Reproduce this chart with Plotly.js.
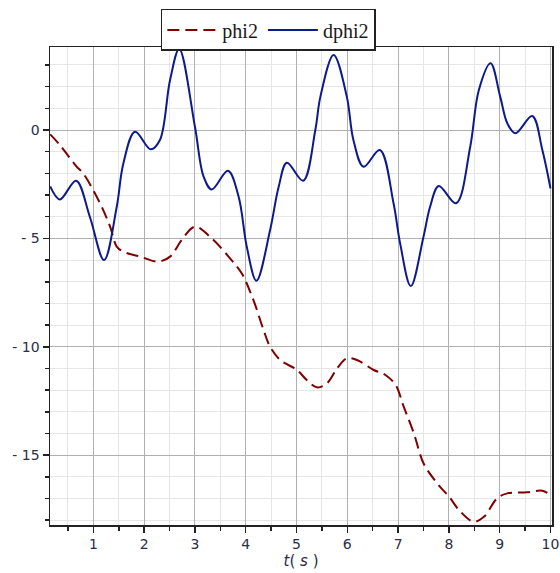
<!DOCTYPE html>
<html>
<head>
<meta charset="utf-8">
<script src="https://cdn.plot.ly/plotly-3.0.1.min.js"></script>
<style>
  html, body { margin: 0; padding: 0; background: #ffffff; }
  #chart { width: 560px; height: 573px; }
</style>
</head>
<body>
<div id="chart"></div>
<script>
// ---- data ----
const tPhi2 = [0.15, 0.34, 0.67, 0.80, 1.13, 1.33, 1.46, 1.59, 1.92, 2.28, 2.51, 2.74, 3.0, 3.33, 3.69, 3.92, 4.15, 4.35, 4.48, 4.68, 5.01, 5.20, 5.40, 5.60, 5.80, 5.99, 6.19, 6.52, 6.75, 6.95, 7.11, 7.31, 7.50, 7.77, 8.0, 8.23, 8.49, 8.69, 8.95, 9.15, 9.54, 9.84, 10.0];
const phi2 = [-0.2, -0.69, -1.69, -2.0, -3.38, -4.46, -5.38, -5.61, -5.84, -6.07, -5.84, -5.07, -4.46, -5.0, -5.92, -6.61, -7.84, -9.22, -10.0, -10.61, -11.07, -11.53, -11.87, -11.68, -10.99, -10.53, -10.61, -11.07, -11.30, -11.76, -12.76, -13.99, -15.37, -16.30, -16.91, -17.61, -18.07, -17.84, -16.99, -16.76, -16.71, -16.64, -16.84];

const tDphi2 = [0.15, 0.34, 0.66, 0.93, 1.21, 1.46, 1.59, 1.82, 2.13, 2.31, 2.51, 2.69, 3.0, 3.17, 3.33, 3.65, 3.86, 4.02, 4.21, 4.48, 4.65, 4.81, 5.13, 5.37, 5.47, 5.73, 5.99, 6.12, 6.32, 6.64, 6.91, 7.04, 7.25, 7.50, 7.63, 7.80, 8.14, 8.42, 8.59, 8.82, 9.01, 9.15, 9.31, 9.64, 9.84, 10.0];
const dphi2 = [-2.6, -3.2, -2.34, -4.0, -6.0, -3.54, -1.54, -0.08, -0.89, -0.46, 2.31, 3.74, 0.15, -2.15, -2.74, -1.88, -3.08, -5.38, -6.95, -4.61, -2.6, -1.51, -2.34, 0.0, 1.54, 3.46, 1.54, -0.46, -1.69, -0.92, -3.38, -5.23, -7.2, -4.92, -3.54, -2.58, -3.38, -0.77, 1.85, 3.08, 1.54, 0.31, -0.15, 0.65, -0.92, -2.69];

const seriesNames = ['phi2', 'dphi2'];
const xTickVals = [1, 2, 3, 4, 5, 6, 7, 8, 9, 10];
const xTickText = ['1', '2', '3', '4', '5', '6', '7', '8', '9', '10'];
const yTickVals = [-15, -10, -5, 0];
const yTickText = ['- 15', '- 10', '- 5', '0'];

// ---- chart ----
const traces = [
  {
    x: tPhi2, y: phi2, name: seriesNames[0], type: 'scatter', mode: 'lines',
    line: { color: '#800000', width: 2, dash: '12px,6px', shape: 'spline', smoothing: 1 }
  },
  {
    x: tDphi2, y: dphi2, name: seriesNames[1], type: 'scatter', mode: 'lines',
    line: { color: '#0c1a8c', width: 2, shape: 'spline', smoothing: 1 }
  }
];

const tickFont = { family: 'DejaVu Sans, sans-serif', size: 14, color: '#2a2d4a' };

const layout = {
  width: 560, height: 573,
  margin: { l: 50, r: 8, t: 47, b: 48, pad: 0 },
  paper_bgcolor: '#ffffff', plot_bgcolor: '#ffffff',
  showlegend: true,
  legend: {
    orientation: 'h', x: 0.435, xanchor: 'center', y: 1.0795, yanchor: 'top',
    bordercolor: '#222222', borderwidth: 1.5, bgcolor: '#ffffff',
    font: { family: 'Liberation Serif, serif', size: 20, color: '#1a1a1a' },
    itemwidth: 50, tracegroupgap: 0
  },
  xaxis: {
    range: [0.146, 10.03], tickmode: 'array', tickvals: xTickVals, ticktext: xTickText,
    ticks: 'outside', ticklen: 6, tickwidth: 1.5, tickcolor: '#222',
    showline: true, linecolor: '#222', linewidth: 1.5, mirror: true,
    showgrid: true, gridcolor: '#b0b0b0', gridwidth: 1, zeroline: false,
    minor: { dtick: 0.5, tick0: 0.5, ticks: 'outside', ticklen: 4, tickwidth: 1.5, tickcolor: '#222', showgrid: true, gridcolor: '#e6e6e6', gridwidth: 1 },
    tickfont: tickFont,
    title: { text: '<i>t</i>( <i>s</i> )', font: { family: 'DejaVu Sans, sans-serif', size: 15, color: '#2a2d4a' }, standoff: 4 }
  },
  yaxis: {
    range: [-18.22, 3.83], tickmode: 'array', tickvals: yTickVals, ticktext: yTickText,
    ticks: 'outside', ticklen: 6, tickwidth: 1.5, tickcolor: '#222',
    showline: true, linecolor: '#222', linewidth: 1.5, mirror: true,
    showgrid: true, gridcolor: '#b0b0b0', gridwidth: 1, zeroline: false,
    minor: { dtick: 1, tick0: 0, ticks: 'outside', ticklen: 4, tickwidth: 1.5, tickcolor: '#222', showgrid: true, gridcolor: '#e6e6e6', gridwidth: 1 },
    tickfont: tickFont
  }
};

Plotly.newPlot('chart', traces, layout, { displayModeBar: false, staticPlot: true });
</script>
</body>
</html>
